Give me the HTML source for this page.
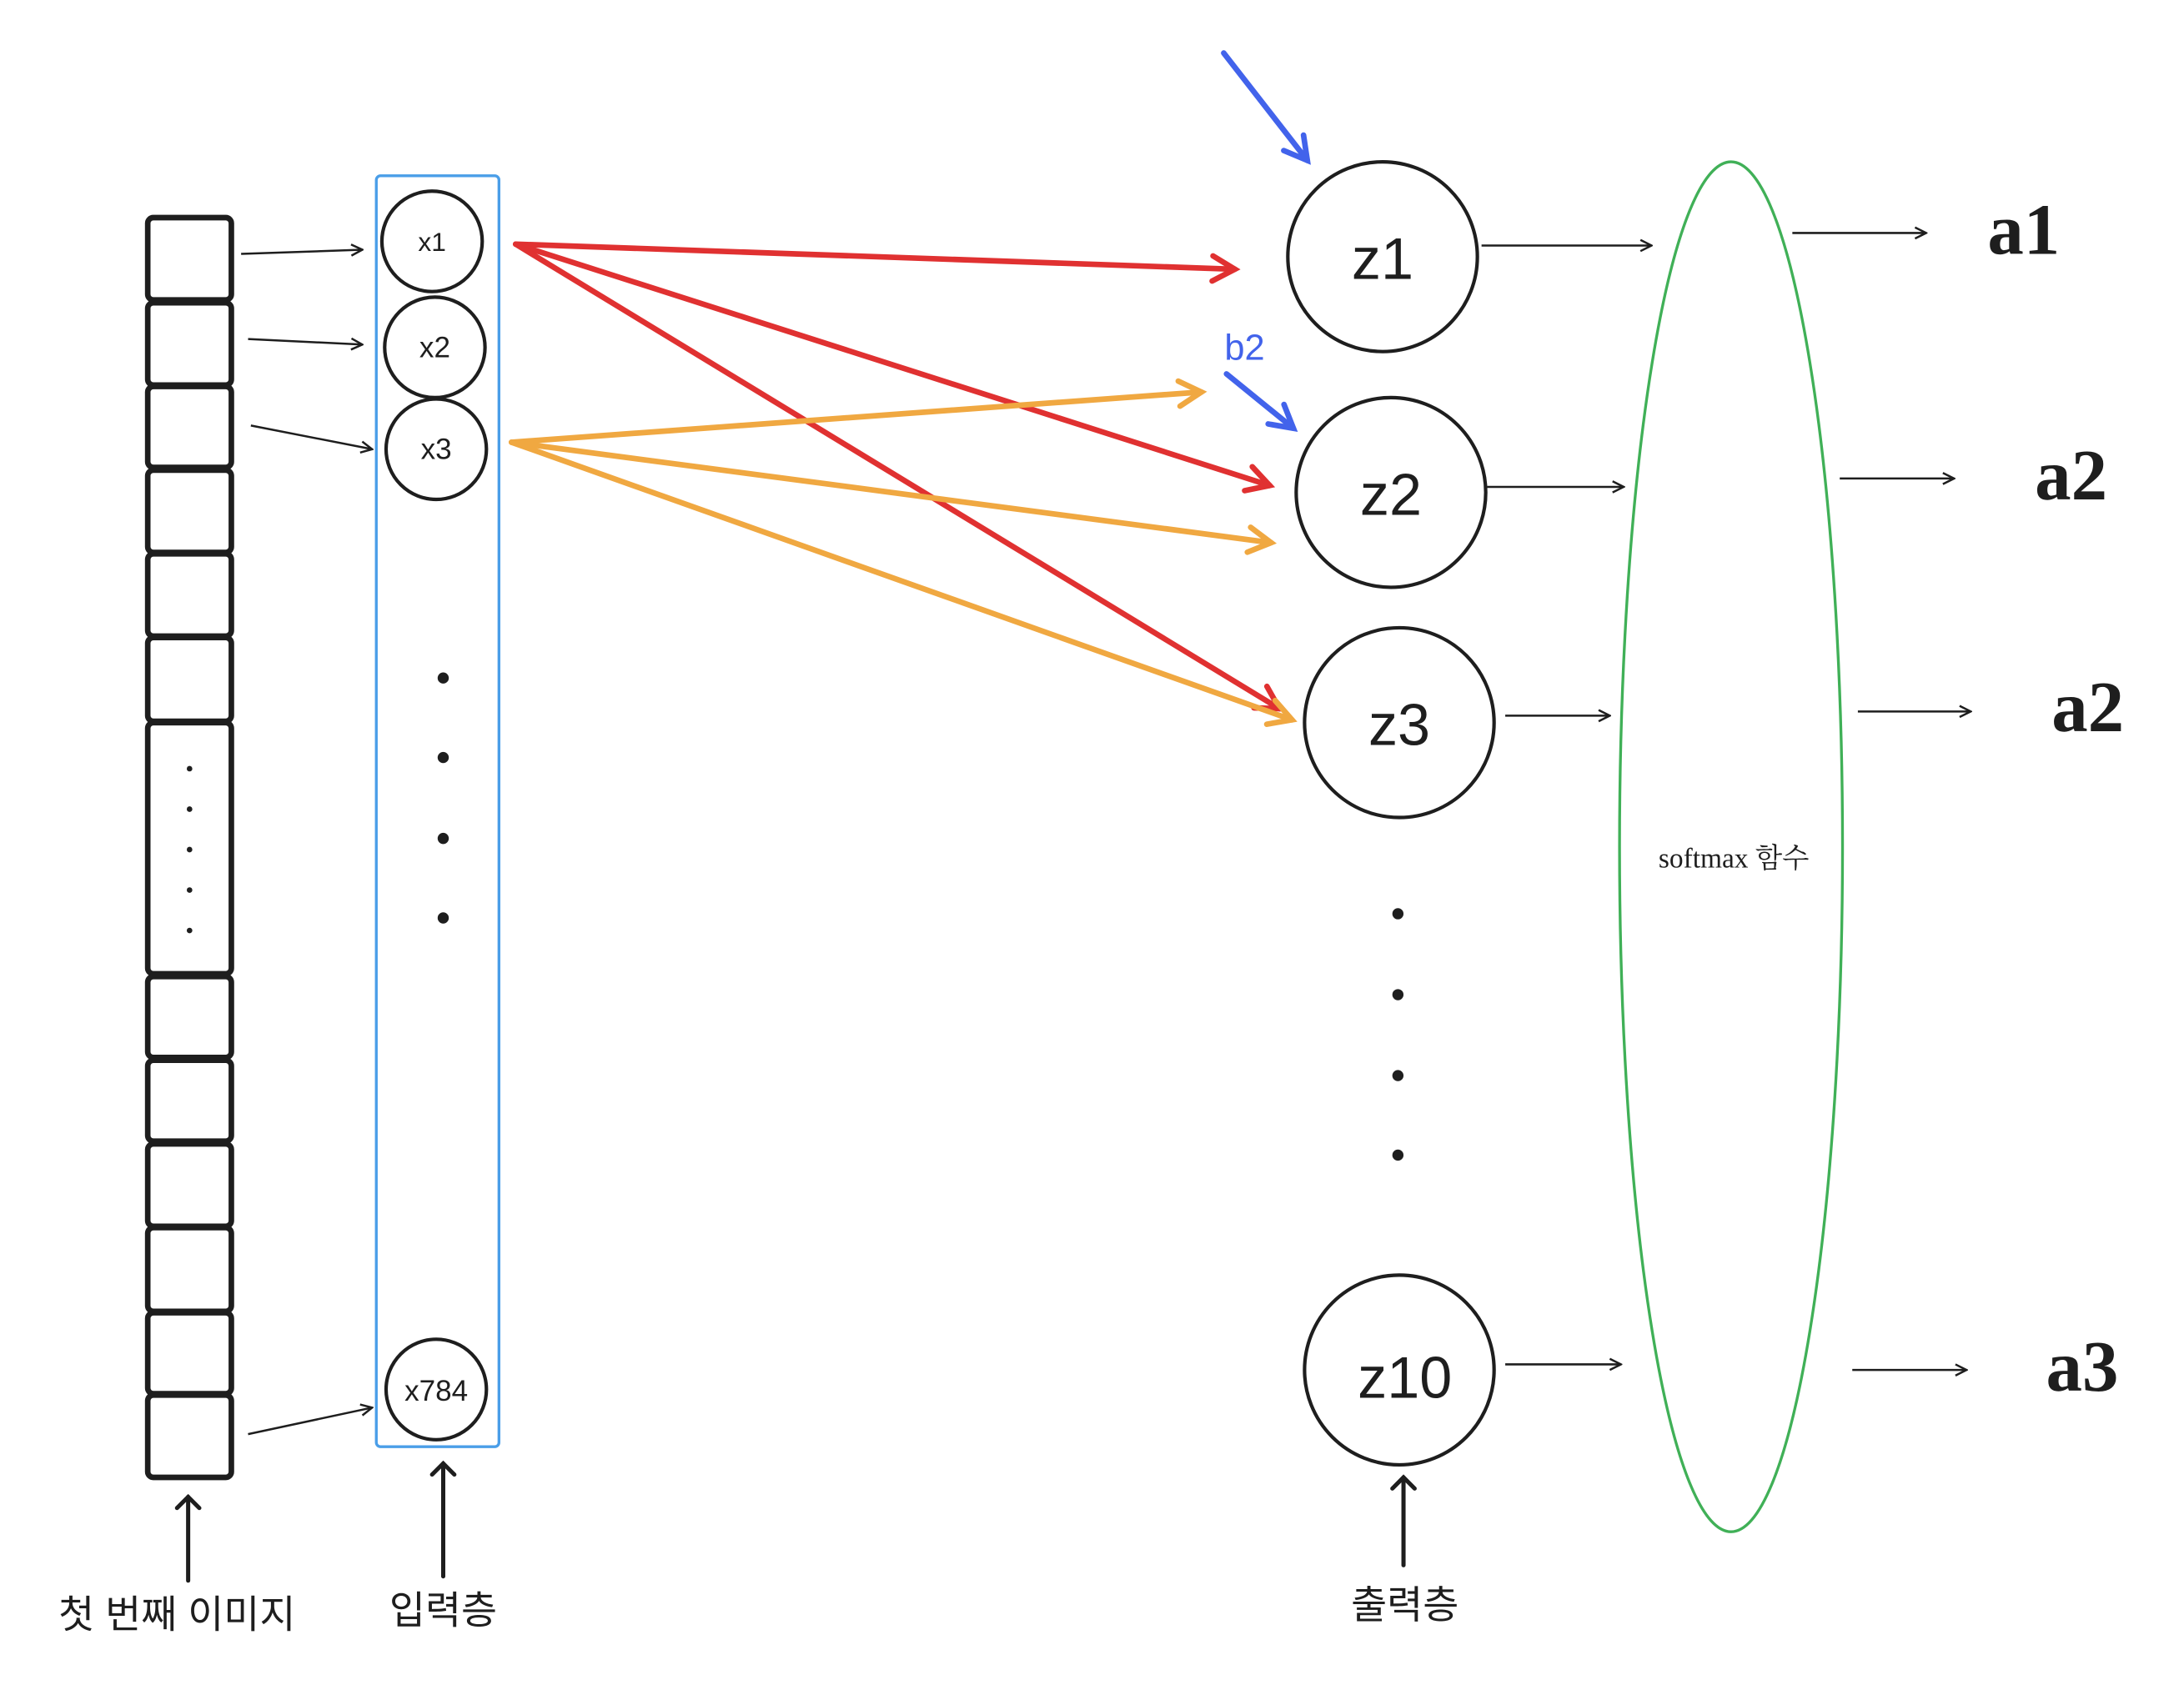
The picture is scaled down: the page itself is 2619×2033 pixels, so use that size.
<!DOCTYPE html>
<html><head><meta charset="utf-8"><style>
html,body{margin:0;padding:0;background:#fff;}
svg{display:block;}
.k{font-family:"Liberation Sans","Noto Sans CJK KR",sans-serif;}
</style></head><body>
<svg width="2619" height="2033" viewBox="0 0 1567 1215" preserveAspectRatio="none" xmlns="http://www.w3.org/2000/svg">
<defs>
<marker id="ab" markerWidth="10" markerHeight="10" refX="9" refY="5" orient="auto" markerUnits="userSpaceOnUse"><path d="M1,1 L9,5 L1,9" fill="none" stroke="#1e1e1e" stroke-width="1.5"/></marker>
<marker id="ar" markerWidth="24" markerHeight="24" refX="20" refY="12" orient="auto" markerUnits="userSpaceOnUse"><path d="M4,3 L20,12 L4,21" fill="none" stroke="#e03131" stroke-width="4" stroke-linecap="round"/></marker>
<marker id="ao" markerWidth="24" markerHeight="24" refX="20" refY="12" orient="auto" markerUnits="userSpaceOnUse"><path d="M4,3 L20,12 L4,21" fill="none" stroke="#f0a841" stroke-width="4" stroke-linecap="round"/></marker>
<marker id="abl" markerWidth="24" markerHeight="24" refX="20" refY="12" orient="auto" markerUnits="userSpaceOnUse"><path d="M4,3 L20,12 L4,21" fill="none" stroke="#4263eb" stroke-width="4" stroke-linecap="round"/></marker>
<marker id="aB" markerWidth="20" markerHeight="20" refX="10" refY="10" orient="auto" markerUnits="userSpaceOnUse"><path d="M2,2 L10,10 L2,18" fill="none" stroke="#1e1e1e" stroke-width="3" stroke-linecap="round"/></marker>
</defs>
<g fill="none" stroke="#1e1e1e" stroke-width="4">
<rect x="106" y="156" width="60" height="59" rx="4"/>
<rect x="106" y="217" width="60" height="59" rx="4"/>
<rect x="106" y="277" width="60" height="58" rx="4"/>
<rect x="106" y="337" width="60" height="59" rx="4"/>
<rect x="106" y="397" width="60" height="59" rx="4"/>
<rect x="106" y="457" width="60" height="60" rx="4"/>
<rect x="106" y="518" width="60" height="180" rx="4"/>
<rect x="106" y="700" width="60" height="58" rx="4"/>
<rect x="106" y="760" width="60" height="58" rx="4"/>
<rect x="106" y="820" width="60" height="59" rx="4"/>
<rect x="106" y="880" width="60" height="60" rx="4"/>
<rect x="106" y="941" width="60" height="58" rx="4"/>
<rect x="106" y="1000" width="60" height="59" rx="4"/>
</g>
<g fill="#1e1e1e">
<circle cx="136" cy="551" r="2"/><circle cx="136" cy="580" r="2"/><circle cx="136" cy="609" r="2"/><circle cx="136" cy="638" r="2"/><circle cx="136" cy="667" r="2"/>
<circle cx="318" cy="486" r="4"/><circle cx="318" cy="543" r="4"/><circle cx="318" cy="601" r="4"/><circle cx="318" cy="658" r="4"/>
<circle cx="1003" cy="655" r="4"/><circle cx="1003" cy="713" r="4"/><circle cx="1003" cy="771" r="4"/><circle cx="1003" cy="828" r="4"/>
</g>
<g stroke="#1e1e1e" stroke-width="1.5" fill="none" marker-end="url(#ab)">
<line x1="173" y1="182" x2="260" y2="179"/>
<line x1="178" y1="243" x2="260" y2="247"/>
<line x1="180" y1="305" x2="267" y2="322"/>
<line x1="178" y1="1028" x2="267" y2="1009"/>
<line x1="1063" y1="176" x2="1185" y2="176"/>
<line x1="1067" y1="349" x2="1165" y2="349"/>
<line x1="1080" y1="513" x2="1155" y2="513"/>
<line x1="1080" y1="978" x2="1163" y2="978"/>
<line x1="1286" y1="167" x2="1382" y2="167"/>
<line x1="1320" y1="343" x2="1402" y2="343"/>
<line x1="1333" y1="510" x2="1414" y2="510"/>
<line x1="1329" y1="982" x2="1411" y2="982"/>
</g>
<rect x="270" y="126" width="88" height="911" rx="3" fill="none" stroke="#4a9ee8" stroke-width="2"/>
<g fill="#fff" stroke="#1e1e1e" stroke-width="2.5">
<circle cx="310" cy="173" r="36"/><circle cx="312" cy="249" r="36"/><circle cx="313" cy="322" r="36"/><circle cx="313" cy="996" r="36"/>
<circle cx="992" cy="184" r="68"/><circle cx="998" cy="353" r="68"/><circle cx="1004" cy="518" r="68"/><circle cx="1004" cy="982" r="68"/>
</g>
<g class="k" fill="#1e1e1e" text-anchor="middle">
<text x="310" y="180" font-size="19">x1</text>
<text x="312" y="256" font-size="21">x2</text>
<text x="313" y="329" font-size="21">x3</text>
<text x="313" y="1004" font-size="21">x784</text>
<text x="992" y="200" font-size="42">z1</text>
<text x="998" y="369" font-size="42">z2</text>
<text x="1004" y="534" font-size="42">z3</text>
<text x="1008" y="1002" font-size="42">z10</text>
<text x="127" y="1167" font-size="28">첫 번째 이미지</text>
<text x="318" y="1164" font-size="28">입력층</text>
<text x="1008" y="1160" font-size="28">출력층</text>
<text x="893" y="258" font-size="26" fill="#4263eb">b2</text>
</g>
<g stroke="#e03131" stroke-width="4" fill="none" stroke-linecap="round" marker-end="url(#ar)">
<line x1="370" y1="175" x2="886" y2="193"/>
<line x1="370" y1="175" x2="911" y2="348"/>
<line x1="370" y1="175" x2="918" y2="508"/>
</g>
<g stroke="#f0a841" stroke-width="4" fill="none" stroke-linecap="round" marker-end="url(#ao)">
<line x1="367" y1="317" x2="862" y2="281"/>
<line x1="367" y1="317" x2="912" y2="389"/>
<line x1="367" y1="317" x2="927" y2="516"/>
</g>
<g stroke="#4263eb" stroke-width="4" fill="none" stroke-linecap="round" marker-end="url(#abl)">
<line x1="878" y1="38" x2="938" y2="115"/>
<line x1="880" y1="268" x2="928" y2="307"/>
</g>
<g stroke="#1e1e1e" stroke-width="3" fill="none" stroke-linecap="round" marker-end="url(#aB)">
<line x1="135" y1="1133" x2="135" y2="1073"/>
<line x1="318" y1="1130" x2="318" y2="1049"/>
<line x1="1007" y1="1122" x2="1007" y2="1059"/>
</g>
<ellipse cx="1242" cy="607" rx="80" ry="491" fill="none" stroke="#40b057" stroke-width="2"/>
<text x="1244" y="622" font-family="Liberation Serif,'Noto Serif CJK SC',serif" font-size="20" text-anchor="middle" fill="#1e1e1e">softmax 함수</text>
<g font-family="Liberation Serif,serif" font-weight="bold" font-size="52" fill="#1e1e1e" text-anchor="middle">
<text x="1452" y="182">a1</text>
<text x="1486" y="358">a2</text>
<text x="1498" y="524">a2</text>
<text x="1494" y="997">a3</text>
</g>
</svg>
</body></html>
